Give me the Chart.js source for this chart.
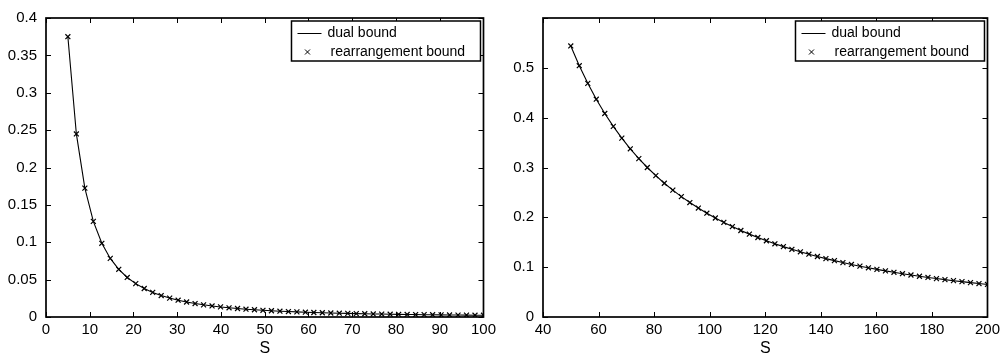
<!DOCTYPE html>
<html>
<head>
<meta charset="utf-8">
<script src="https://cdn.jsdelivr.net/npm/chart.js@4.4.1/dist/chart.umd.min.js"></script>
<style>
  body { margin: 0; background: #fff; }
  canvas { position: absolute; top: 0; }
  #left { left: 0; }
  #right { left: 500px; }
</style>
</head>
<body>
<canvas id="left" width="500" height="362"></canvas>
<canvas id="right" width="504" height="362"></canvas>
<script>
// left panel: S from 5 to 100
const sLeft = [5, 6.94, 8.88, 10.82, 12.76, 14.69, 16.63, 18.57, 20.51, 22.45,
  24.39, 26.33, 28.27, 30.20, 32.14, 34.08, 36.02, 37.96, 39.90, 41.84,
  43.78, 45.71, 47.65, 49.59, 51.53, 53.47, 55.41, 57.35, 59.29, 61.22,
  63.16, 65.10, 67.04, 68.98, 70.92, 72.86, 74.80, 76.73, 78.67, 80.61,
  82.55, 84.49, 86.43, 88.37, 90.31, 92.24, 94.18, 96.12, 98.06, 100];
const boundLeft = [0.3750, 0.2449, 0.1724, 0.1279, 0.0986, 0.0784, 0.0638, 0.0529, 0.0446, 0.0381,
  0.0329, 0.0287, 0.0253, 0.02245, 0.02005, 0.01802, 0.01628, 0.01478, 0.01348, 0.01234,
  0.01135, 0.01046, 0.00968, 0.00898, 0.00836, 0.00779, 0.00729, 0.00683, 0.00641, 0.00603,
  0.00568, 0.00536, 0.00507, 0.00480, 0.00456, 0.00433, 0.00411, 0.00392, 0.00373, 0.00356,
  0.00340, 0.00325, 0.00311, 0.00298, 0.00286, 0.00275, 0.00264, 0.00254, 0.00244, 0.00235];

// right panel: S from 50 to 200
const sRight = [50, 53.06, 56.12, 59.18, 62.24, 65.31, 68.37, 71.43, 74.49, 77.55,
  80.61, 83.67, 86.73, 89.80, 92.86, 95.92, 98.98, 102.04, 105.10, 108.16,
  111.22, 114.29, 117.35, 120.41, 123.47, 126.53, 129.59, 132.65, 135.71, 138.78,
  141.84, 144.90, 147.96, 151.02, 154.08, 157.14, 160.20, 163.27, 166.33, 169.39,
  172.45, 175.51, 178.57, 181.63, 184.69, 187.76, 190.82, 193.88, 196.94, 200];
const boundRight = [0.5439, 0.5043, 0.4689, 0.4371, 0.4084, 0.3825, 0.3589, 0.3375, 0.3179, 0.3000,
  0.2836, 0.2684, 0.2545, 0.2416, 0.2297, 0.2186, 0.2083, 0.1987, 0.1898, 0.1814,
  0.1736, 0.1663, 0.1595, 0.1530, 0.1469, 0.1412, 0.1359, 0.1308, 0.1260, 0.1214,
  0.1171, 0.1131, 0.1092, 0.1055, 0.1020, 0.0987, 0.0956, 0.0925, 0.0897, 0.0869,
  0.0843, 0.0818, 0.0794, 0.0771, 0.0750, 0.0729, 0.0709, 0.0689, 0.0671, 0.0653];

const seriesLabels = ["dual bound", "rearrangement bound"];
const xTitle = "S";
const FONT = "'Liberation Sans', Arial, Helvetica, sans-serif";

// box around the axes with inward ticks on all four sides, plus the legend
const matlabBox = {
  id: "matlabBox",
  afterDraw(chart) {
    const { ctx, chartArea: a } = chart;
    const xs = chart.scales.x;
    const ys = chart.scales.y;
    const tl = 5;
    ctx.save();
    ctx.strokeStyle = "#000";
    ctx.lineWidth = 1;
    ctx.beginPath();
    xs.ticks.forEach((t) => {
      const px = Math.round(xs.getPixelForValue(t.value)) + 0.5;
      ctx.moveTo(px, a.bottom); ctx.lineTo(px, a.bottom - tl);
      ctx.moveTo(px, a.top); ctx.lineTo(px, a.top + tl);
    });
    ys.ticks.forEach((t) => {
      const py = Math.round(ys.getPixelForValue(t.value)) + 0.5;
      ctx.moveTo(a.left, py); ctx.lineTo(a.left + tl, py);
      ctx.moveTo(a.right, py); ctx.lineTo(a.right - tl, py);
    });
    ctx.stroke();
    ctx.lineWidth = 1.7;
    ctx.strokeRect(a.left, a.top, a.right - a.left, a.bottom - a.top);

    // legend
    const w = 189, h = 40;
    const lx = a.right - 3 - w, ly = a.top + 3;
    ctx.fillStyle = "#fff";
    ctx.fillRect(lx, ly, w, h);
    ctx.lineWidth = 1.5;
    ctx.strokeRect(lx, ly, w, h);
    ctx.lineWidth = 1;
    ctx.beginPath();
    ctx.moveTo(lx + 6, ly + 12.5); ctx.lineTo(lx + 30, ly + 12.5);
    ctx.stroke();
    const mx = lx + 16, my = ly + 31, r = 2.5;
    ctx.beginPath();
    ctx.moveTo(mx - r, my - r); ctx.lineTo(mx + r, my + r);
    ctx.moveTo(mx - r, my + r); ctx.lineTo(mx + r, my - r);
    ctx.stroke();
    ctx.fillStyle = "#000";
    ctx.font = "14px " + FONT;
    ctx.textBaseline = "middle";
    ctx.fillText(seriesLabels[0], lx + 36, ly + 12);
    ctx.fillText(seriesLabels[1], lx + 39, ly + 31);
    ctx.restore();
  },
};

function makeChart(id, xs, ys, xOpts, yOpts, yAxisWidth) {
  const points = xs.map((x, i) => ({ x: x, y: ys[i] }));
  return new Chart(document.getElementById(id).getContext("2d"), {
    type: "scatter",
    data: {
      datasets: [
        {
          label: seriesLabels[0],
          data: points,
          showLine: true,
          borderColor: "#000",
          borderWidth: 1.1,
          pointRadius: 0,
        },
        {
          label: seriesLabels[1],
          data: points,
          showLine: false,
          pointStyle: "crossRot",
          pointRadius: 3.5,
          borderColor: "#000",
          borderWidth: 1.2,
        },
      ],
    },
    options: {
      responsive: false,
      animation: false,
      layout: { padding: { top: 14, right: 15, left: 0, bottom: 0 } },
      plugins: { legend: { display: false }, tooltip: { enabled: false } },
      scales: {
        x: Object.assign({
          type: "linear",
          grid: { display: false, drawTicks: false },
          border: { display: false },
          title: { display: true, text: xTitle, color: "#000", font: { size: 16, family: FONT }, padding: { top: 0, bottom: 4 } },
          afterFit: (s) => { s.height = 45; },
        }, xOpts),
        y: Object.assign({
          type: "linear",
          grid: { display: false, drawTicks: false },
          border: { display: false },
          afterFit: (s) => { s.width = yAxisWidth; },
        }, yOpts),
      },
    },
    plugins: [matlabBox],
  });
}

makeChart("left", sLeft, boundLeft,
  { min: 0, max: 100, ticks: { stepSize: 10, color: "#000", font: { size: 15, family: FONT }, padding: 4, maxRotation: 0 } },
  { min: 0, max: 0.4, ticks: { stepSize: 0.05, color: "#000", font: { size: 15, family: FONT }, padding: 9,
      callback: (v) => String(+v.toFixed(2)) } },
  46);

makeChart("right", sRight, boundRight,
  { min: 40, max: 200, ticks: { stepSize: 20, color: "#000", font: { size: 15, family: FONT }, padding: 4, maxRotation: 0 } },
  { min: 0, max: 0.6, ticks: { stepSize: 0.1, color: "#000", font: { size: 15, family: FONT }, padding: 9,
      callback: (v) => (v > 0.55 ? "" : String(+v.toFixed(1))) } },
  43);
</script>
</body>
</html>
